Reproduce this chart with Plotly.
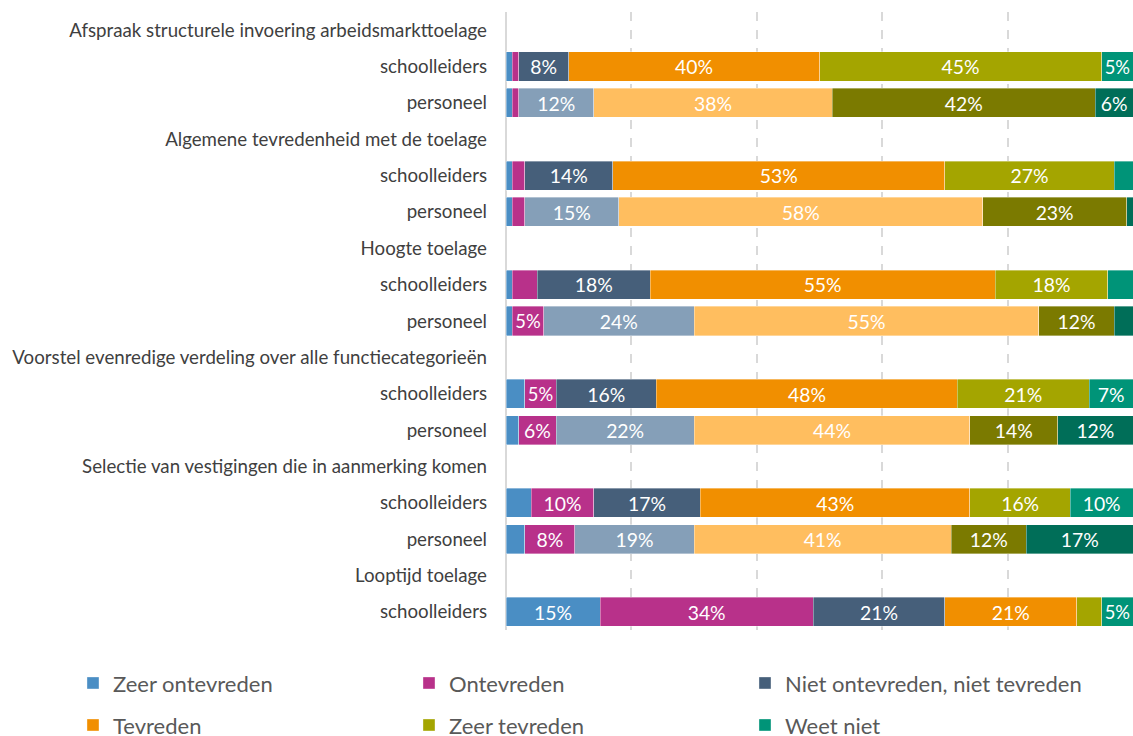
import plotly.graph_objects as go

# Survey topics, each followed by the respondent groups that answered it
topics = [
    "Afspraak structurele invoering arbeidsmarkttoelage",
    "Algemene tevredenheid met de toelage",
    "Hoogte toelage",
    "Voorstel evenredige verdeling over alle functiecategorieën",
    "Selectie van vestigingen die in aanmerking komen",
    "Looptijd toelage",
]
groups_per_topic = [
    ["schoolleiders", "personeel"],
    ["schoolleiders", "personeel"],
    ["schoolleiders", "personeel"],
    ["schoolleiders", "personeel"],
    ["schoolleiders", "personeel"],
    ["schoolleiders"],
]

answers = [
    "Zeer ontevreden",
    "Ontevreden",
    "Niet ontevreden, niet tevreden",
    "Tevreden",
    "Zeer tevreden",
    "Weet niet",
]

# Percentages per answer, one list per topic (schoolleiders / personeel)
schoolleiders = {
    "Zeer ontevreden":                [1, 1, 1, 3, 4, 15],
    "Ontevreden":                     [1, 2, 4, 5, 10, 34],
    "Niet ontevreden, niet tevreden": [8, 14, 18, 16, 17, 21],
    "Tevreden":                       [40, 53, 55, 48, 43, 21],
    "Zeer tevreden":                  [45, 27, 18, 21, 16, 4],
    "Weet niet":                      [5, 3, 4, 7, 10, 5],
}
personeel = {
    "Zeer ontevreden":                [1, 1, 1, 2, 3],
    "Ontevreden":                     [1, 2, 5, 6, 8],
    "Niet ontevreden, niet tevreden": [12, 15, 24, 22, 19],
    "Tevreden":                       [38, 58, 55, 44, 41],
    "Zeer tevreden":                  [42, 23, 12, 14, 12],
    "Weet niet":                      [6, 1, 3, 12, 17],
}

colors_sl = ["#4A8EC4", "#B8318A", "#465F7A", "#F18F00", "#A4A500", "#009478"]
colors_p = ["#4A8EC4", "#B8318A", "#859FB8", "#FFBE5F", "#7B7A00", "#006E58"]

# Build the row layout: a heading row per topic, then one row per group
row_labels, sl_rows, p_rows = [], [], []
for topic, groups in zip(topics, groups_per_topic):
    row_labels.append(topic)
    for g in groups:
        (sl_rows if g == "schoolleiders" else p_rows).append(len(row_labels))
        row_labels.append(g)

def labels(vals):
    return [f"{v}%" if v >= 5 else "" for v in vals]

FONT = "Lato"
bar_text = dict(color="white", size=21, family=FONT)

fig = go.Figure()
for i, ans in enumerate(answers):
    fig.add_trace(go.Bar(
        y=sl_rows, x=schoolleiders[ans], orientation="h", name=ans,
        marker=dict(color=colors_sl[i], line=dict(color="rgba(255,255,255,0.6)", width=0.6)),
        text=labels(schoolleiders[ans]), textposition="inside",
        insidetextanchor="middle", textangle=0, textfont=bar_text,
        legendgroup=ans, legend="legend" if i < 3 else "legend2",
        hoverinfo="skip",
    ))
    fig.add_trace(go.Bar(
        y=p_rows, x=personeel[ans], orientation="h", name=ans,
        marker=dict(color=colors_p[i], line=dict(color="rgba(255,255,255,0.6)", width=0.6)),
        text=labels(personeel[ans]), textposition="inside",
        insidetextanchor="middle", textangle=0, textfont=bar_text,
        legendgroup=ans, showlegend=False,
        hoverinfo="skip",
    ))

legend_style = dict(
    orientation="h", entrywidth=291, entrywidthmode="pixels",
    xanchor="left", yanchor="middle", x=-0.6906,
    font=dict(family=FONT, size=22, color="#595959"),
    bgcolor="rgba(0,0,0,0)", traceorder="normal",
)

fig.update_layout(
    width=1133, height=736,
    margin=dict(l=506, r=0, t=12, b=106, autoexpand=False),
    paper_bgcolor="white", plot_bgcolor="white",
    barmode="stack", bargap=0.2,
    font=dict(family=FONT, size=18.5, color="#404040"),
    showlegend=True,
    legend=dict(legend_style, y=-0.086),
    legend2=dict(legend_style, y=-0.154),
    xaxis=dict(
        range=[0, 100], dtick=20, showticklabels=False,
        showgrid=True, gridcolor="#D9D9D9", gridwidth=2, griddash="dash",
        zeroline=True, zerolinecolor="#D9D9D9", zerolinewidth=2,
        fixedrange=True,
    ),
    yaxis=dict(
        tickmode="array", tickvals=list(range(len(row_labels))), ticktext=row_labels,
        range=[len(row_labels) - 0.5, -0.5], showgrid=False, zeroline=False,
        ticks="", ticklabelstandoff=18,
        tickfont=dict(family=FONT, size=18.7, color="#404040"),
        fixedrange=True,
    ),
)

fig.write_html("out.html")
